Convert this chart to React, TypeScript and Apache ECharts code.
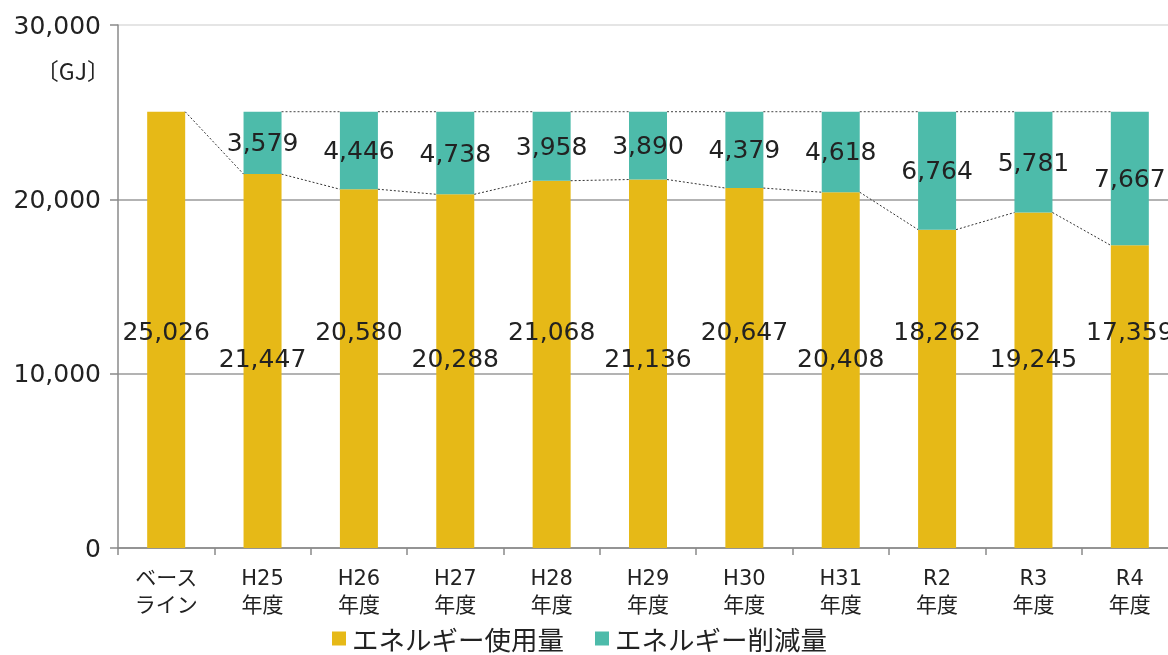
import React, { useEffect, useRef } from "react";
import * as echarts from "echarts";

const categories = ["ベース\nライン", "H25\n年度", "H26\n年度", "H27\n年度", "H28\n年度", "H29\n年度", "H30\n年度", "H31\n年度", "R2\n年度", "R3\n年度", "R4\n年度"];
const usage = [25026, 21447, 20580, 20288, 21068, 21136, 20647, 20408, 18262, 19245, 17359];
const reduction: (number | null)[] = [null, 3579, 4446, 4738, 3958, 3890, 4379, 4618, 6764, 5781, 7667];
const seriesNames = ["エネルギー使用量", "エネルギー削減量"];
const unitLabel = "〔GJ〕";
const yTicks = { min: 0, max: 30000, interval: 10000 };

const NUM_FONT = '"DejaVu Sans", "Noto Sans CJK JP", sans-serif';
const JP_FONT = '"Noto Sans CJK JP", "Noto Sans", sans-serif';
const YELLOW = "#E6B917";
const TEAL = "#4DBBAA";
const BAR_W = 38;

export default function App() {
  const ref = useRef<HTMLDivElement>(null);
  useEffect(() => {
    if (!ref.current) return;
    const chart = echarts.init(ref.current, null, { renderer: "svg" });
    const fmt = (v: number) => v.toLocaleString("en-US");
    const n = categories.length;
    const option: any = {
      animation: false,
      grid: { left: 118, top: 25, width: 1060, height: 523 },
      legend: {
        data: seriesNames,
        left: 332,
        top: 625,
        icon: "rect",
        itemWidth: 14,
        itemHeight: 14,
        itemGap: 31,
        padding: 0,
        textStyle: { fontFamily: JP_FONT, fontSize: 26.5, lineHeight: 27, color: "#222", padding: [0, 0, 0, 1] },
      },
      graphic: [
        {
          type: "text",
          x: 110,
          y: 70,
          style: { text: unitLabel, font: `23px ${JP_FONT}`, fill: "#222", textAlign: "right", textVerticalAlign: "middle" },
        },
      ],
      xAxis: {
        type: "category",
        data: categories,
        axisLine: { lineStyle: { color: "#8a8a8a", width: 1.5 } },
        axisTick: { show: true, length: 7, lineStyle: { color: "#8a8a8a", width: 1.5 } },
        axisLabel: { fontFamily: NUM_FONT, fontSize: 21, lineHeight: 27, color: "#222", margin: 16, interval: 0 },
      },
      yAxis: {
        type: "value",
        min: yTicks.min,
        max: yTicks.max,
        interval: yTicks.interval,
        axisLine: { show: true, lineStyle: { color: "#8a8a8a", width: 1.5 } },
        axisTick: { show: true, length: 8, lineStyle: { color: "#8a8a8a", width: 1.5 } },
        axisLabel: { fontFamily: NUM_FONT, fontSize: 25, color: "#222", margin: 17, formatter: (v: number) => fmt(v) },
        splitLine: { show: true, lineStyle: { color: ["#9a9a9a", "#9a9a9a", "#9a9a9a", "#dcdcdc"], width: 1.5 } },
      },
      series: [
        {
          name: seriesNames[0],
          type: "bar",
          stack: "total",
          barWidth: BAR_W,
          itemStyle: { color: YELLOW },
          data: usage.map((v, i) => ({
            value: v,
            label: {
              show: true,
              position: "insideBottom",
              distance: i % 2 === 0 ? 204 : 177,
              formatter: () => fmt(v),
              fontFamily: NUM_FONT,
              fontSize: 25,
              color: "#222",
            },
          })),
          z: 2,
        },
        {
          name: seriesNames[1],
          type: "bar",
          stack: "total",
          barWidth: BAR_W,
          itemStyle: { color: TEAL },
          label: {
            show: true,
            position: "inside",
            fontFamily: NUM_FONT,
            fontSize: 25,
            color: "#222",
            formatter: (p: any) => (p.value == null ? "" : fmt(p.value)),
          },
          data: reduction.map((v) => (v == null ? "-" : v)),
          z: 2,
        },
        {
          type: "custom",
          name: "connectors",
          z: 5,
          silent: true,
          data: usage.map((v, i) => [i, v]),
          encode: { x: 0, y: 1 },
          renderItem: (params: any, api: any) => {
            const i = api.value(0);
            if (i >= n - 1) return null;
            const half = BAR_W / 2;
            const a = api.coord([i, usage[i]]);
            const b = api.coord([i + 1, usage[i + 1]]);
            const total = usage[0];
            const children: any[] = [
              {
                type: "line",
                shape: { x1: a[0] + half, y1: a[1], x2: b[0] - half, y2: b[1] },
                style: { stroke: "#333", lineWidth: 1, lineDash: [2, 2] },
              },
            ];
            if (i >= 1) {
              const t = api.coord([i, total]);
              children.push({
                type: "line",
                shape: { x1: a[0] + half, y1: t[1], x2: b[0] - half, y2: t[1] },
                style: { stroke: "#444", lineWidth: 1, lineDash: [2, 2] },
              });
            }
            return { type: "group", children };
          },
        },
      ],
    };
    chart.setOption(option);
    return () => chart.dispose();
  }, []);
  return (
    <div style={{ position: "fixed", left: 0, top: 0, width: 1168, height: 655, overflow: "hidden" }}>
      <div ref={ref} style={{ width: 1180, height: 655 }} />
    </div>
  );
}
